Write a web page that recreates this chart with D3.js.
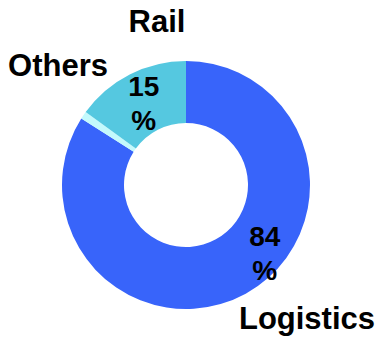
<!DOCTYPE html>
<html>
<head>
<meta charset="utf-8">
<script src="https://cdn.jsdelivr.net/npm/d3@7"></script>
<style>
  html, body { margin: 0; padding: 0; background: #fff; }
  text { font-family: "Liberation Sans", Arial, sans-serif; font-weight: bold; fill: #000; }
</style>
</head>
<body>
<div id="chart"></div>
<script>
const categories = ["Logistics", "Others", "Rail"],
      values = [84, 1, 15],
      colors = ["#3864fa", "#c4f9fc", "#55c8e0"],
      pctLabels = ["84\n%", "", "15\n%"]

const w = 385,
      h = 339,
      cx = 186,
      cy = 185,
      outerR = 124,
      innerR = 62

const svg = d3.select("#chart").append("svg")
  .attr("width", w)
  .attr("height", h)

const g = svg.append("g")
  .attr("transform", `translate(${cx},${cy})`)

const pie = d3.pie().sort(null).value(d => d)
const arcs = pie(values)
const arc = d3.arc().innerRadius(innerR).outerRadius(outerR)

g.selectAll("path")
  .data(arcs)
  .join("path")
  .attr("d", arc)
  .attr("fill", (d, i) => colors[i])

// percent labels: centroid, nudged for the big slice
const nudge = [[34, -9], [0, 0], [0, 5]]
arcs.forEach((d, i) => {
  if (!pctLabels[i]) return
  const [x, y] = arc.centroid(d)
  const lines = pctLabels[i].split("\n")
  const t = g.append("text")
    .attr("text-anchor", "middle")
    .style("font-size", "28px")
  lines.forEach((l, k) => {
    t.append("tspan")
      .attr("x", x + nudge[i][0])
      .attr("y", y + nudge[i][1] - 11 + k * 34)
      .text(l)
  })
})

// category names, placed around the ring
const namePos = [[121, 144], [-128, -109], [-29, -153]]
categories.forEach((c, i) => {
  g.append("text")
    .attr("x", namePos[i][0])
    .attr("y", namePos[i][1])
    .attr("text-anchor", "middle")
    .style("font-size", "31px")
    .text(c)
})
</script>
</body>
</html>
